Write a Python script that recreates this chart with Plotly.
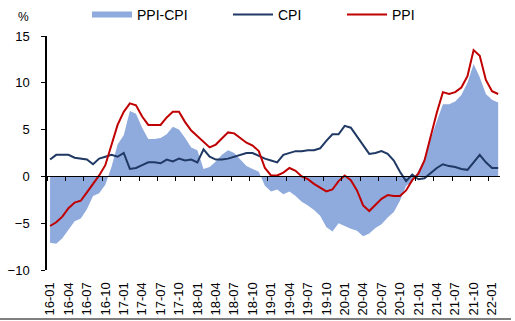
import plotly.graph_objects as go

years = ["16", "17", "18", "19", "20", "21", "22"]
months = [f"{y}-{m:02d}" for y in years for m in range(1, 13)][:74]

cpi = [1.8, 2.3, 2.3, 2.3, 2.0, 1.9, 1.8, 1.3, 1.9, 2.1, 2.3, 2.1,
       2.5, 0.8, 0.9, 1.2, 1.5, 1.5, 1.4, 1.8, 1.6, 1.9, 1.7, 1.8,
       1.5, 2.9, 2.1, 1.8, 1.8, 1.9, 2.1, 2.3, 2.5, 2.5, 2.2, 1.9,
       1.7, 1.5, 2.3, 2.5, 2.7, 2.7, 2.8, 2.8, 3.0, 3.8, 4.5, 4.5,
       5.4, 5.2, 4.3, 3.3, 2.4, 2.5, 2.7, 2.4, 1.7, 0.5, -0.5, 0.2,
       -0.3, -0.2, 0.4, 0.9, 1.3, 1.1, 1.0, 0.8, 0.7, 1.5, 2.3, 1.5,
       0.9, 0.9]
ppi = [-5.3, -4.9, -4.3, -3.4, -2.8, -2.6, -1.7, -0.8, 0.1, 1.2, 3.3, 5.5,
       6.9, 7.8, 7.6, 6.4, 5.5, 5.5, 5.5, 6.3, 6.9, 6.9, 5.8, 4.9,
       4.3, 3.7, 3.1, 3.4, 4.1, 4.7, 4.6, 4.1, 3.6, 3.3, 2.7, 0.9,
       0.1, 0.1, 0.4, 0.9, 0.6, 0.0, -0.3, -0.8, -1.2, -1.6, -1.4, -0.5,
       0.1, -0.4, -1.5, -3.1, -3.7, -3.0, -2.4, -2.0, -2.1, -2.1, -1.5, -0.4,
       0.3, 1.7, 4.4, 6.8, 9.0, 8.8, 9.0, 9.5, 10.7, 13.5, 12.9, 10.3,
       9.1, 8.8]
spread = [-7.1, -7.2, -6.6, -5.7, -4.8, -4.5, -3.5, -2.1, -1.8, -0.9, 1.0, 3.4,
          4.4, 7.0, 6.7, 5.2, 4.0, 4.0, 4.1, 4.5, 5.3, 5.0, 4.1, 3.1,
          2.8, 0.8, 1.0, 1.6, 2.3, 2.8, 2.5, 1.8, 1.1, 0.8, 0.5, -1.0,
          -1.6, -1.4, -1.9, -1.6, -2.1, -2.7, -3.1, -3.6, -4.2, -5.4, -5.9, -5.0,
          -5.3, -5.6, -5.8, -6.4, -6.1, -5.5, -5.1, -4.4, -3.8, -2.6, -1.0, -0.6,
          0.6, 1.9, 4.0, 5.9, 7.7, 7.7, 8.0, 8.7, 10.0, 12.0, 10.6, 8.8,
          8.2, 7.9]

idx = list(range(len(months)))
label_pos = idx[::3]
label_text = months[::3]
boundary_ticks = [i - 0.5 for i in idx[::3]]
xr = [-0.5, 73.3]

font = "Liberation Sans, Arial, sans-serif"
fig = go.Figure()
fig.add_trace(go.Scatter(x=idx, y=spread, name="PPI-CPI", mode="none",
                         fill="tozeroy", fillcolor="#8FAADC", legend="legend"))
fig.add_trace(go.Scatter(x=idx, y=cpi, name="CPI", mode="lines",
                         line=dict(color="#1F3864", width=2), legend="legend2"))
fig.add_trace(go.Scatter(x=idx, y=ppi, name="PPI", mode="lines",
                         line=dict(color="#C00000", width=2), legend="legend3"))
fig.add_trace(go.Scatter(x=[0], y=[0], xaxis="x2", mode="markers",
                         marker=dict(opacity=0), showlegend=False, hoverinfo="skip"))

leg = dict(orientation="h", yanchor="middle", xanchor="left", y=1.09,
           bgcolor="rgba(0,0,0,0)", font=dict(family=font, size=14, color="black"),
           itemwidth=40)
W = 453.0
fig.update_layout(
    width=515, height=321,
    margin=dict(l=47, r=15, t=36, b=51, autoexpand=False),
    paper_bgcolor="white", plot_bgcolor="white",
    font=dict(family=font, size=13, color="black"),
    legend=dict(leg, x=(87 - 47) / W),
    legend2=dict(leg, x=(228 - 47) / W),
    legend3=dict(leg, x=(342 - 47) / W),
    xaxis=dict(range=xr, tickvals=label_pos, ticktext=label_text, tickangle=-90,
               showline=False, showgrid=False, zeroline=False,
               ticks="outside", ticklen=6, tickcolor="rgba(0,0,0,0)",
               tickfont=dict(size=13)),
    xaxis2=dict(range=xr, overlaying="x", anchor="free", position=0.4,
                tickvals=boundary_ticks, showticklabels=False, ticks="outside",
                ticklen=4, tickcolor="black", showline=True, linecolor="black",
                linewidth=1, showgrid=False, zeroline=False),
    yaxis=dict(range=[-10, 15], tickvals=[-10, -5, 0, 5, 10, 15],
               showline=True, linecolor="black", linewidth=1.5, ticks="outside",
               ticklen=4, tickcolor="black", showgrid=False, zeroline=False,
               ticklabelstandoff=9, tickfont=dict(size=13)),
    annotations=[dict(text="%", xref="paper", yref="paper", x=(23 - 47) / W,
                      y=1 + (36 - 17) / 234.0, xanchor="center", yanchor="middle",
                      showarrow=False, font=dict(size=12, family=font))],
    shapes=[dict(type="line", xref="paper", yref="paper",
                 x0=-47 / W, x1=(511 - 47) / W,
                 y0=-(319 - 270) / 234.0, y1=-(319 - 270) / 234.0,
                 line=dict(color="black", width=1))],
)
fig.write_html("out.html")
